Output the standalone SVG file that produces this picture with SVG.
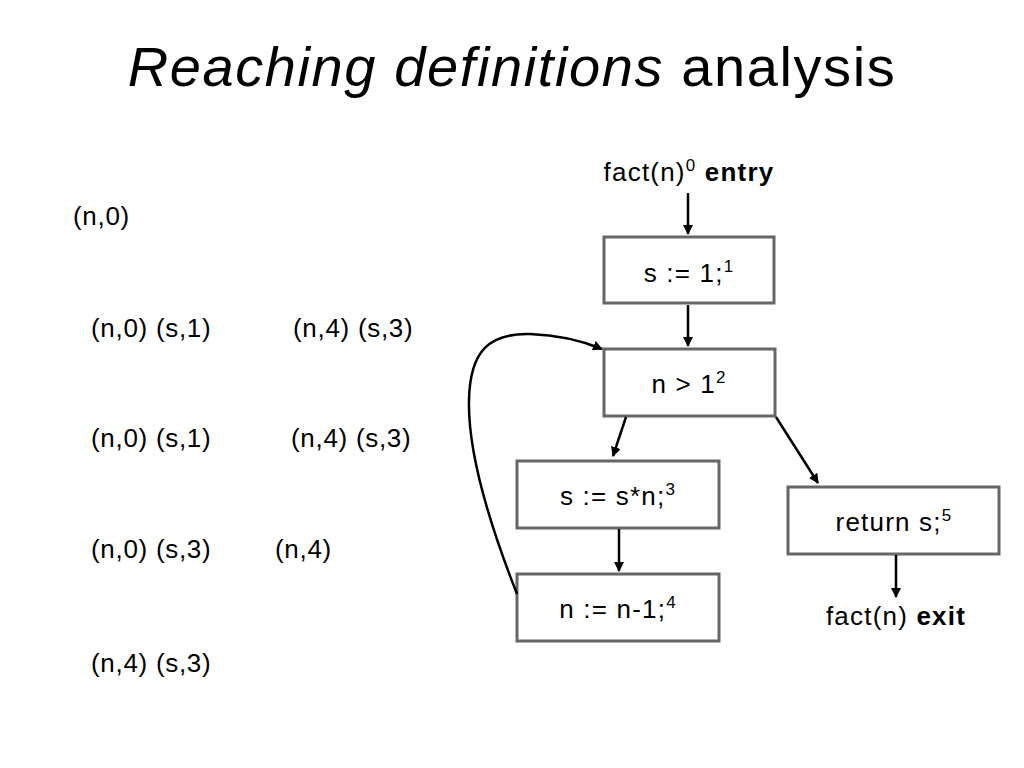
<svg xmlns="http://www.w3.org/2000/svg" width="1024" height="768" viewBox="0 0 1024 768">
<defs>
<marker id="ah" viewBox="0 0 10 10" refX="9" refY="5" markerWidth="4" markerHeight="4" orient="auto" markerUnits="strokeWidth">
<path d="M0,0 L10,5 L0,10 z" fill="#000"/>
</marker>
<style>
text{font-family:"Liberation Sans",Arial,sans-serif;fill:#000}
.t{font-size:26px;letter-spacing:0.7px}
.lbl{font-size:26px;text-anchor:middle;letter-spacing:1.2px}
.sup{font-size:17px}
.box{fill:#fff;stroke:#666;stroke-width:3}
.edge{fill:none;stroke:#000;stroke-width:2.5;marker-end:url(#ah)}
</style>
</defs>
<rect width="1024" height="768" fill="#fff"/>
<text x="512" y="86" font-size="56" text-anchor="middle" letter-spacing="1.6"><tspan font-style="italic">Reaching definitions</tspan> analysis</text>

<g id="sets">
<text class="t" x="73" y="225">(n,0)</text>
<text class="t" x="91" y="337">(n,0) (s,1)</text>
<text class="t" x="293" y="337">(n,4) (s,3)</text>
<text class="t" x="91" y="447">(n,0) (s,1)</text>
<text class="t" x="291" y="447">(n,4) (s,3)</text>
<text class="t" x="91" y="558">(n,0) (s,3)</text>
<text class="t" x="275" y="558">(n,4)</text>
<text class="t" x="91" y="672">(n,4) (s,3)</text>
</g>

<g id="entry"><text class="lbl" x="689" y="181">fact(n)<tspan class="sup" dy="-10">0</tspan><tspan dy="10" font-weight="bold"> entry</tspan></text></g>
<g id="n1"><rect class="box" x="604" y="237" width="170" height="66"/><text class="lbl" x="689" y="282">s := 1;<tspan class="sup" dy="-10">1</tspan></text></g>
<g id="n2"><rect class="box" x="604" y="349" width="171" height="67"/><text class="lbl" x="689" y="393">n &gt; 1<tspan class="sup" dy="-10">2</tspan></text></g>
<g id="n3"><rect class="box" x="517" y="461" width="202" height="67"/><text class="lbl" x="618" y="505">s := s*n;<tspan class="sup" dy="-10">3</tspan></text></g>
<g id="n4"><rect class="box" x="517" y="574" width="202" height="67"/><text class="lbl" x="618" y="618">n := n-1;<tspan class="sup" dy="-10">4</tspan></text></g>
<g id="n5"><rect class="box" x="788" y="487" width="211" height="67"/><text class="lbl" x="894" y="531">return s;<tspan class="sup" dy="-10">5</tspan></text></g>
<g id="exit"><text class="lbl" x="896" y="625">fact(n) <tspan font-weight="bold">exit</tspan></text></g>

<g id="connectors">
<line class="edge" x1="688" y1="193" x2="688" y2="234"/>
<line class="edge" x1="688" y1="305" x2="688" y2="346"/>
<line class="edge" x1="626" y1="417" x2="613" y2="456"/>
<line class="edge" x1="776" y1="417" x2="818" y2="483"/>
<line class="edge" x1="619" y1="529" x2="619" y2="571"/>
<line class="edge" x1="896" y1="555" x2="896" y2="597"/>
<path class="edge" d="M517,594 C480,500 468,440 469,400 C470,350 490,333 530,334 C560,335 585,342 602,349"/>
</g>
</svg>
